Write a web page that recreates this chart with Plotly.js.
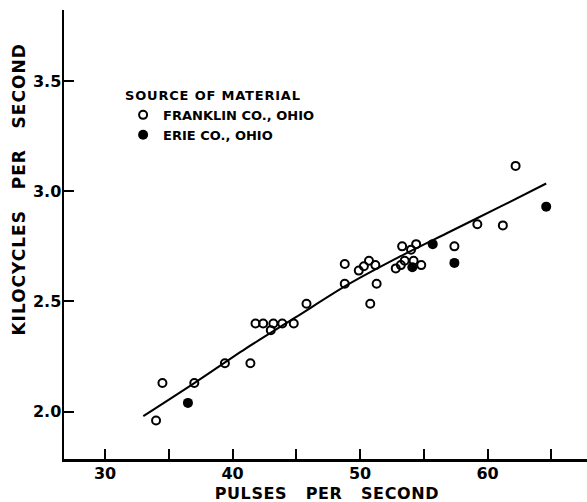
<!DOCTYPE html>
<html>
<head>
<meta charset="utf-8">
<script src="https://cdn.plot.ly/plotly-3.0.1.min.js"></script>
<style>
html,body{margin:0;padding:0;background:#fff;}
#chart{width:587px;height:502px;}
#chart .legendtitletext{letter-spacing:0.8px;}
#chart g.annotation[data-index="0"] text{letter-spacing:0.6px;}
#chart g.annotation[data-index="1"] text{letter-spacing:1px;}
</style>
</head>
<body>
<div id="chart"></div>
<script>
// Franklin Co., Ohio (open circles)
var franklinX = [34.0, 34.5, 37.0, 39.4, 41.4, 41.8, 42.4, 43.0, 43.2, 43.9, 44.8, 45.8,
                 48.8, 48.8, 49.9, 50.3, 50.7, 51.2, 51.3, 50.8, 52.8, 53.2, 53.5, 54.2, 54.8,
                 53.3, 54.0, 54.4, 57.4, 59.2, 61.2, 62.2];
var franklinY = [1.96, 2.13, 2.13, 2.22, 2.22, 2.40, 2.40, 2.37, 2.40, 2.40, 2.40, 2.49,
                 2.67, 2.58, 2.64, 2.66, 2.685, 2.665, 2.58, 2.49, 2.65, 2.665, 2.685, 2.685, 2.665,
                 2.75, 2.735, 2.76, 2.75, 2.85, 2.845, 3.115];
// Erie Co., Ohio (filled circles)
var erieX = [36.5, 54.1, 55.7, 57.4, 64.6];
var erieY = [2.04, 2.655, 2.76, 2.675, 2.93];
// Fitted curve
var fitX = [33.0, 37.0, 41.0, 45.0, 49.0, 53.0, 57.0, 61.0, 64.6];
var fitY = [1.98, 2.13, 2.285, 2.43, 2.575, 2.70, 2.815, 2.93, 3.035];
// Axis ticks
var xTickVals = [30, 35, 40, 45, 50, 55, 60, 65];
var xTickText = ['30', '', '40', '', '50', '', '60', ''];
var yTickVals = [2.0, 2.5, 3.0, 3.5];
var yTickText = ['2.0', '2.5', '3.0', '3.5'];

var FONT = 'DejaVu Sans, sans-serif';

var traces = [
  {
    x: fitX, y: fitY, type: 'scatter', mode: 'lines',
    line: {color: '#000', width: 2, shape: 'spline', smoothing: 0.8},
    showlegend: false, hoverinfo: 'skip'
  },
  {
    x: franklinX, y: franklinY, type: 'scatter', mode: 'markers',
    name: 'FRANKLIN CO., OHIO',
    marker: {symbol: 'circle-open', size: 8, color: '#000', line: {width: 2, color: '#000'}}
  },
  {
    x: erieX, y: erieY, type: 'scatter', mode: 'markers',
    name: 'ERIE CO., OHIO',
    marker: {symbol: 'circle', size: 10, color: '#000'}
  }
];

var layout = {
  width: 587, height: 502,
  margin: {l: 64, r: 0, t: 10, b: 43, pad: 0},
  paper_bgcolor: '#fff', plot_bgcolor: '#fff',
  font: {family: FONT, color: '#000'},
  xaxis: {
    range: [26.78, 67.8],
    tickvals: xTickVals, ticktext: xTickText,
    ticks: 'inside', ticklen: 10, tickwidth: 2, tickcolor: '#000',
    showline: true, linewidth: 2.5, linecolor: '#000',
    showgrid: false, zeroline: false, ticklabelstandoff: -2,
    tickfont: {family: FONT, size: 16, weight: 'bold', color: '#000'}
  },
  yaxis: {
    range: [1.7855, 3.822],
    tickvals: yTickVals, ticktext: yTickText,
    ticks: 'inside', ticklen: 10, tickwidth: 2, tickcolor: '#000',
    showline: true, linewidth: 2.5, linecolor: '#000',
    showgrid: false, zeroline: false, ticklabelstandoff: -3,
    tickfont: {family: FONT, size: 16, weight: 'bold', color: '#000'}
  },
  legend: {
    x: 0.113, y: 0.8374, xanchor: 'left', yanchor: 'top',
    bgcolor: 'rgba(0,0,0,0)', borderwidth: 0,
    title: {text: 'SOURCE OF MATERIAL', font: {family: FONT, size: 13, weight: 'bold', color: '#000'}},
    font: {family: FONT, size: 13, weight: 'bold', color: '#000'},
    tracegroupgap: 0, itemwidth: 30
  },
  annotations: [
    {
      text: 'PULSES\u00a0\u00a0\u00a0PER\u00a0\u00a0\u00a0SECOND',
      xref: 'paper', yref: 'paper', x: 0.503, y: -0.0765,
      xanchor: 'center', yanchor: 'middle', showarrow: false,
      font: {family: FONT, size: 16, weight: 'bold', color: '#000'}
    },
    {
      text: 'KILOCYCLES\u00a0\u00a0\u00a0PER\u00a0\u00a0\u00a0SECOND',
      xref: 'paper', yref: 'paper', x: -0.086, y: 0.599,
      xanchor: 'center', yanchor: 'middle', showarrow: false, textangle: -90,
      font: {family: FONT, size: 17, weight: 'bold', color: '#000'}
    }
  ]
};

Plotly.newPlot('chart', traces, layout, {displayModeBar: false, staticPlot: true});
</script>
</body>
</html>
